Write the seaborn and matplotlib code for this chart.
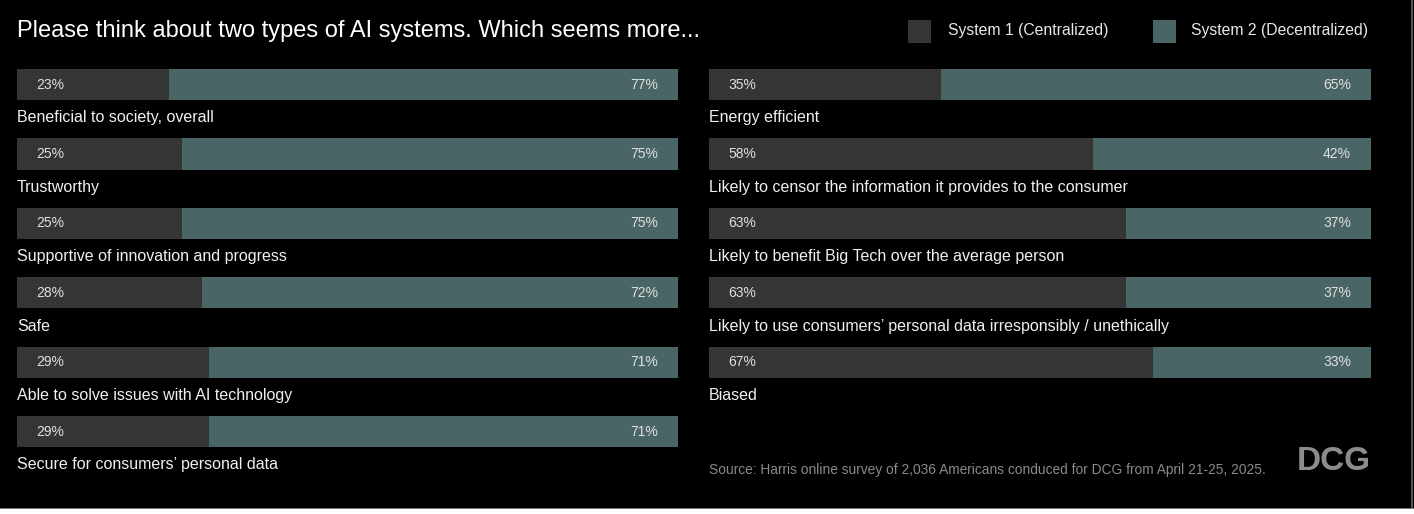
import matplotlib
matplotlib.use("Agg")
import matplotlib.pyplot as plt
import seaborn as sns
import pandas as pd
from matplotlib.patches import Rectangle

# ---- data ----
left_categories = [
    "Beneficial to society, overall",
    "Trustworthy",
    "Supportive of innovation and progress",
    "Safe",
    "Able to solve issues with AI technology",
    "Secure for consumers\u2019 personal data",
]
left_system1 = [23, 25, 25, 28, 29, 29]
left_system2 = [77, 75, 75, 72, 71, 71]

right_categories = [
    "Energy efficient",
    "Likely to censor the information it provides to the consumer",
    "Likely to benefit Big Tech over the average person",
    "Likely to use consumers\u2019 personal data irresponsibly / unethically",
    "Biased",
]
right_system1 = [35, 58, 63, 63, 67]
right_system2 = [65, 42, 37, 37, 33]

series_names = ["System 1 (Centralized)", "System 2 (Decentralized)"]
title = "Please think about two types of AI systems. Which seems more..."
source = "Source: Harris online survey of 2,036 Americans conduced for DCG from April 21-25, 2025."

# ---- style ----
sns.set_theme(style="white")
plt.rcParams["font.family"] = ["Liberation Sans", "DejaVu Sans"]

C1 = "#353535"
C2 = "#4a6565"
BG = "#000000"
W, H = 1414, 514

fig = plt.figure(figsize=(W / 100, H / 100), dpi=100, facecolor=BG)

def axes_px(x0, x1, y_top, y_bot):
    return fig.add_axes([x0 / W, (H - y_bot) / H, (x1 - x0) / W, (y_bot - y_top) / H])

ax_top, ax_bot = 50, 501
axL = axes_px(17, 678, ax_top, ax_bot)
axR = axes_px(709, 1371, ax_top, ax_bot)

def draw(ax, cats, s1, s2):
    df = pd.DataFrame({"cat": cats, "s1": s1, "s2": s2})
    df["total"] = df["s1"] + df["s2"]
    sns.barplot(data=df, y="cat", x="total", orient="h", color=C2, width=0.45,
                linewidth=0, saturation=1, ax=ax, order=cats)
    sns.barplot(data=df, y="cat", x="s1", orient="h", color=C1, width=0.45,
                linewidth=0, saturation=1, ax=ax, order=cats)
    ax.set_facecolor(BG)
    ax.set_xlim(0, 100)
    ax.set_ylim(6.0, -0.5)
    ax.set_xlabel("")
    ax.set_ylabel("")
    ax.set_xticks([])
    ax.set_yticks([])
    for sp in ax.spines.values():
        sp.set_visible(False)
    for i, (c, a, b) in enumerate(zip(cats, s1, s2)):
        ax.annotate(f"{a}%", xy=(0, i), xytext=(19, 0), textcoords="offset pixels",
                    ha="left", va="center", color="#e0e0e0", fontsize=10)
        ax.annotate(f"{b}%", xy=(100, i), xytext=(-20, 0), textcoords="offset pixels",
                    ha="right", va="center", color="#e0e0e0", fontsize=10)
        ax.text(0, i + 0.48, c, ha="left", va="center", color="#f0f0f0",
                fontsize=11.5, clip_on=False)

draw(axL, left_categories, left_system1, left_system2)
draw(axR, right_categories, right_system1, right_system2)

# title
fig.text(17 / W, 1 - 31 / H, title, ha="left", va="center", color="#ffffff", fontsize=17)

# legend
for (x_sq, x_txt, col, name) in [(908, 948, C1, series_names[0]), (1153, 1191, C2, series_names[1])]:
    fig.patches.append(Rectangle((x_sq / W, 1 - 43 / H), 23 / W, 23 / H,
                                 transform=fig.transFigure, facecolor=col, edgecolor="none"))
    fig.text(x_txt / W, 1 - 31 / H, name, ha="left", va="center", color="#e8e8e8", fontsize=11.3)

# source and logo
fig.text(709 / W, 1 - 470 / H, source, ha="left", va="center", color="#8a8a8a", fontsize=9.95)
fig.text(1371 / W, 1 - 461 / H, "DCG", ha="right", va="center", color="#8c8c8c",
         fontsize=24, fontweight="bold")

# bottom / right frame strips
fig.patches.append(Rectangle((0, 0), 1, 5 / H, transform=fig.transFigure,
                             facecolor="#ffffff", edgecolor="none"))
fig.patches.append(Rectangle((0, 5 / H), 1, 1.5 / H, transform=fig.transFigure,
                             facecolor="#777777", edgecolor="none"))
fig.patches.append(Rectangle((1411 / W, 6 / H), 1.5 / W, 1, transform=fig.transFigure,
                             facecolor="#555555", edgecolor="none"))

fig.savefig("out.png", dpi=100, facecolor=BG)
